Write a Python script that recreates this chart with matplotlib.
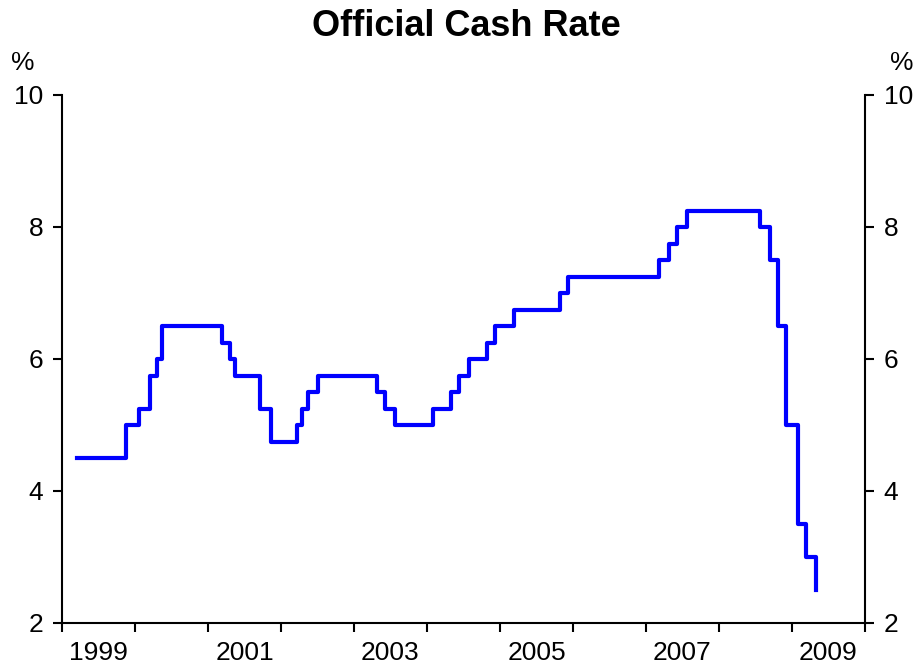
import datetime as dt

import matplotlib
matplotlib.use("Agg")
import matplotlib.pyplot as plt
import matplotlib.dates as mdates
from matplotlib.ticker import FixedLocator, FixedFormatter, NullFormatter

# Official Cash Rate decisions (date, rate %)
dates = [
    "1999-03-17", "1999-11-17", "2000-01-19", "2000-03-15", "2000-04-19",
    "2000-05-17", "2001-03-14", "2001-04-19", "2001-05-16", "2001-09-19",
    "2001-11-14", "2002-03-20", "2002-04-17", "2002-05-15", "2002-07-03",
    "2003-04-24", "2003-06-05", "2003-07-24", "2004-01-29", "2004-04-29",
    "2004-06-10", "2004-07-29", "2004-10-28", "2004-12-09", "2005-03-10",
    "2005-10-27", "2005-12-08", "2007-03-08", "2007-04-26", "2007-06-07",
    "2007-07-26", "2008-07-24", "2008-09-11", "2008-10-23", "2008-12-04",
    "2009-01-29", "2009-03-12", "2009-04-30",
]
rates = [
    4.50, 5.00, 5.25, 5.75, 6.00,
    6.50, 6.25, 6.00, 5.75, 5.25,
    4.75, 5.00, 5.25, 5.50, 5.75,
    5.50, 5.25, 5.00, 5.25, 5.50,
    5.75, 6.00, 6.25, 6.50, 6.75,
    7.00, 7.25, 7.50, 7.75, 8.00,
    8.25, 8.00, 7.50, 6.50, 5.00,
    3.50, 3.00, 2.50,
]
year_labels = ["1999", "2001", "2003", "2005", "2007", "2009"]
y_ticks = [2, 4, 6, 8, 10]

plt.rcParams["font.family"] = ["Liberation Sans", "DejaVu Sans"]


def main():
    x = [dt.datetime.strptime(d, "%Y-%m-%d") for d in dates]

    fig = plt.figure(figsize=(9.2, 6.71), dpi=100)
    ax = fig.add_axes([62 / 920, 1 - 623 / 671, 803 / 920, 528 / 671])

    ax.plot(x, rates, drawstyle="steps-post", color="#0000ff", lw=3.0)

    ax.set_xlim(dt.datetime(1999, 1, 1), dt.datetime(2010, 1, 1))
    ax.set_ylim(2, 10)

    # yearly tick marks, labels centred mid-year on odd years
    ax.xaxis.set_major_locator(mdates.YearLocator(1))
    ax.xaxis.set_major_formatter(NullFormatter())
    mids = [mdates.date2num(dt.datetime(int(y), 7, 2)) for y in year_labels]
    ax.xaxis.set_minor_locator(FixedLocator(mids))
    ax.xaxis.set_minor_formatter(FixedFormatter(year_labels))
    ax.tick_params(axis="x", which="major", direction="out", length=6.5,
                   width=1.5)
    ax.tick_params(axis="x", which="minor", length=0, pad=13, labelsize=19)

    ax.set_yticks(y_ticks)
    ax.tick_params(axis="y", which="both", direction="out", length=6.5,
                   width=1.5, labelsize=19, pad=7, left=True, right=True,
                   labelleft=True, labelright=True)

    ax.spines["top"].set_visible(False)
    for s in ("left", "right", "bottom"):
        ax.spines[s].set_linewidth(1.5)

    fig.text(23 / 920, 1 - 63 / 671, "%", fontsize=19, ha="center",
             va="center")
    fig.text(902 / 920, 1 - 63 / 671, "%", fontsize=19, ha="center",
             va="center")
    fig.text(466 / 920, 1 - 26 / 671, "Official Cash Rate", fontsize=26,
             fontweight="bold", ha="center", va="center")

    fig.savefig("out.png", dpi=100)


if __name__ == "__main__":
    main()
